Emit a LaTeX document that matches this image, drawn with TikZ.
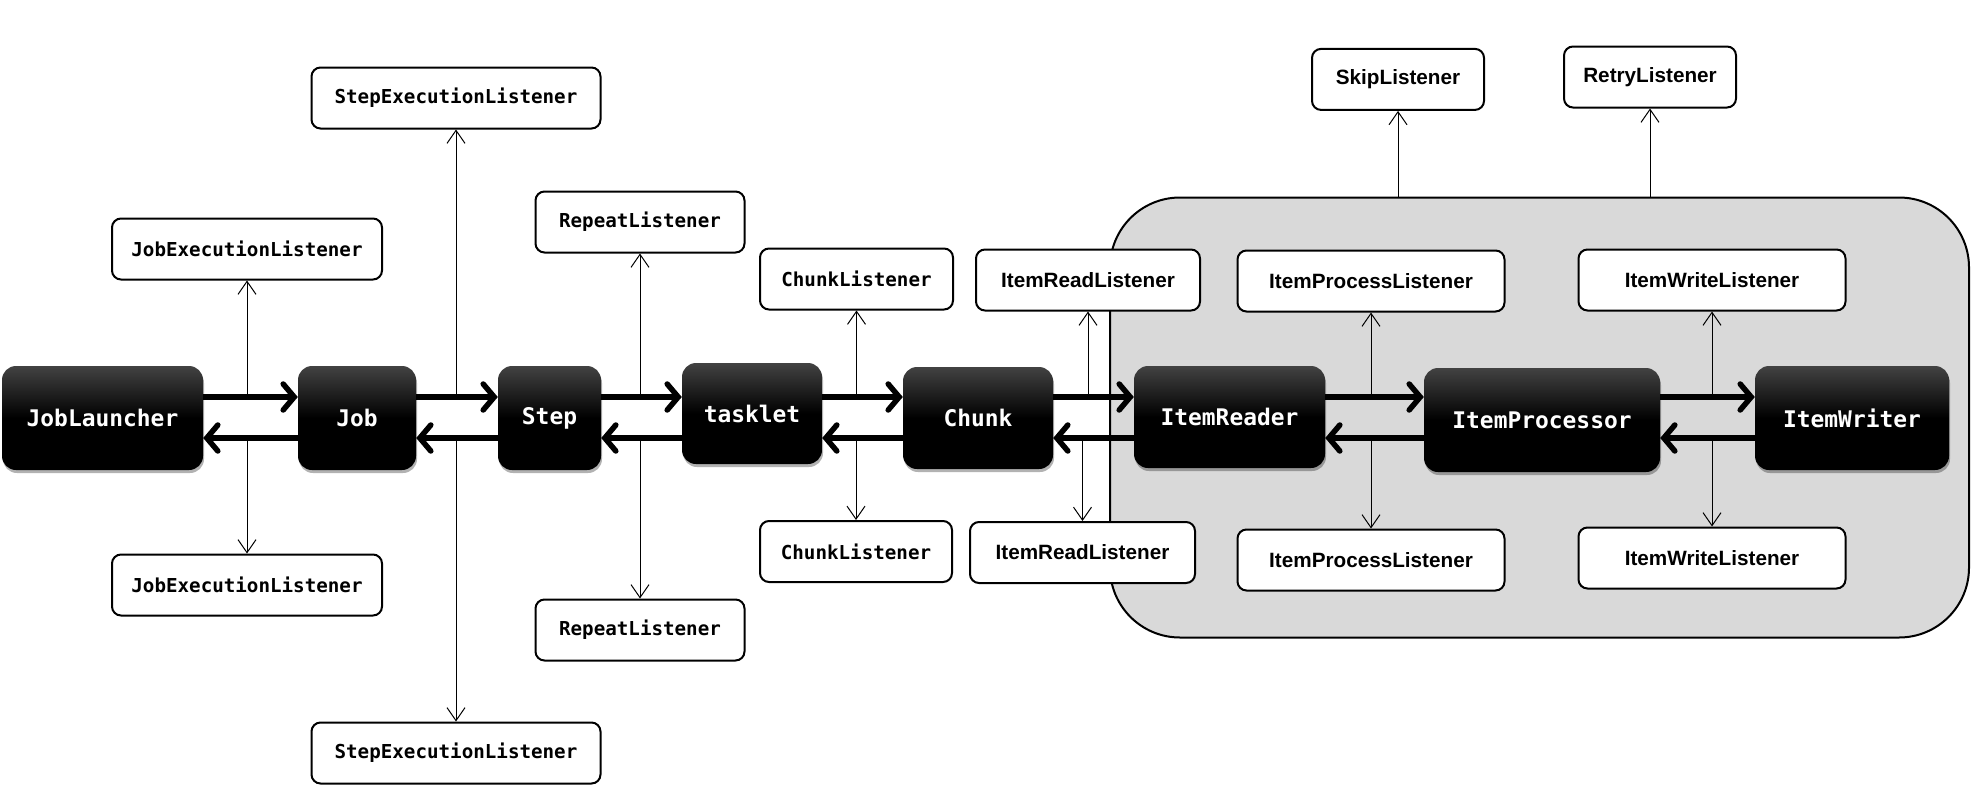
\documentclass[tikz,border=0pt]{standalone}
\usepackage{fontspec}
\setmainfont{Liberation Sans}
\setmonofont{DejaVu Sans Mono}
\usetikzlibrary{arrows.meta,shadows}
\begin{document}
\begin{tikzpicture}[x=1pt,y=-1pt,
  blk/.style={rounded corners=14pt, top color=black!74, bottom color=black, middle color=black,
    text=white, font=\ttfamily\bfseries\fontsize{22.9}{26}\selectfont, inner sep=0pt,
    drop shadow={shadow xshift=1pt,shadow yshift=-3pt,opacity=0.3,fill=black}},
  lst/.style={draw, line width=2pt, rounded corners=9pt, fill=white, inner sep=0pt, minimum height=61pt},
  lmono/.style={lst, font=\ttfamily\bfseries\fontsize{19.2}{22}\selectfont},
  lsans/.style={lst, font=\bfseries\fontsize{20.7}{24}\selectfont},
  big/.style={line width=5.5pt, -{Straight Barb[length=11pt,width=26pt,line cap=round]}},
  thinarr/.style={line width=1pt, -{Straight Barb[length=13pt,width=18pt]}},
  grp/.style={draw, line width=2pt, fill=black!15, rounded corners=70pt, inner sep=0pt}
]
\useasboundingbox (0,0) rectangle (1980,811);
\coordinate (fwd) at (0,397);
\coordinate (bwd) at (0,438);

% group
\node[grp, minimum width=859pt, minimum height=440pt] (group) at (1539.5,417.5) {};

% black boxes
\node[blk, minimum width=201pt, minimum height=104pt] (jl) at (102.5,418) {JobLauncher};
\node[blk, minimum width=118pt, minimum height=104pt] (job) at (357,418) {Job};
\node[blk, minimum width=103pt, minimum height=104pt] (step) at (549.5,418) {Step};
\node[blk, minimum width=140pt, minimum height=101pt] (tasklet) at (752,413.5) {tasklet};
\node[blk, minimum width=150pt, minimum height=102pt] (chunk) at (978,418) {Chunk};
\node[blk, minimum width=191pt, minimum height=102pt] (ir) at (1229.5,417) {ItemReader};
\node[blk, minimum width=236pt, minimum height=104pt] (ip) at (1542,420) {ItemProcessor};
\node[blk, minimum width=194pt, minimum height=104pt] (iw) at (1852,418) {ItemWriter};

% listener boxes
\node[lmono, minimum width=289pt] (sel1) at (456,98) {StepExecutionListener};
\node[lmono, minimum width=289pt] (sel2) at (456,753) {StepExecutionListener};
\node[lmono, minimum width=270pt] (jel1) at (247,249) {JobExecutionListener};
\node[lmono, minimum width=270pt] (jel2) at (247,585) {JobExecutionListener};
\node[lmono, minimum width=209pt] (rep1) at (640,222) {RepeatListener};
\node[lmono, minimum width=209pt] (rep2) at (640,630) {RepeatListener};
\node[lmono, minimum width=193pt] (ch1) at (856.5,279) {ChunkListener};
\node[lmono, minimum width=192pt] (ch2) at (856,551.5) {ChunkListener};
\node[lsans, minimum width=224pt] (irl1) at (1088,280) {ItemReadListener};
\node[lsans, minimum width=225pt] (irl2) at (1082.5,552.5) {ItemReadListener};
\node[lsans, minimum width=267pt] (ipl1) at (1371,281) {ItemProcessListener};
\node[lsans, minimum width=267pt] (ipl2) at (1371,560) {ItemProcessListener};
\node[lsans, minimum width=267pt] (iwl1) at (1712,280) {ItemWriteListener};
\node[lsans, minimum width=267pt] (iwl2) at (1712,558) {ItemWriteListener};
\node[lsans, minimum width=172pt] (skip) at (1398,79.4) {SkipListener};
\node[lsans, minimum width=172pt] (retry) at (1650,77) {RetryListener};

% thick flow arrows
\foreach \a/\b in {jl/job, job/step, step/tasklet, tasklet/chunk, chunk/ir, ir/ip, ip/iw}{
  \draw[big] (\a.east |- fwd) -- (\b.west |- fwd);
  \draw[big] (\b.west |- bwd) -- (\a.east |- bwd);
}

% thin listener arrows
\foreach \t/\b in {jel1/jel2, sel1/sel2, rep1/rep2, ch1/ch2, irl1/irl2, ipl1/ipl2, iwl1/iwl2}{
  \draw[thinarr] (\t.south |- fwd) -- (\t.south);
  \draw[thinarr] (\b.north |- bwd) -- (\b.north);
}
\draw[thinarr] (skip.south |- group.north) -- (skip.south);
\draw[thinarr] (retry.south |- group.north) -- (retry.south);
\end{tikzpicture}
\end{document}
